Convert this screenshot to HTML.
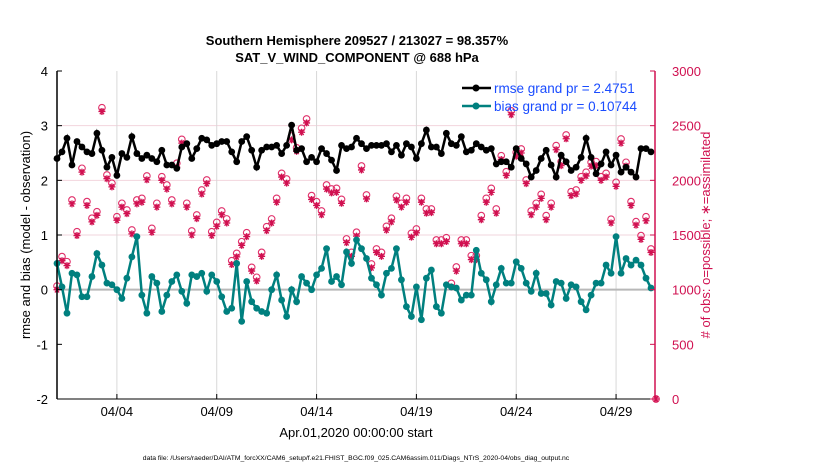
<!DOCTYPE html>
<html><head><meta charset="utf-8"><style>
body{margin:0;background:#fff;width:830px;height:470px;overflow:hidden;font-family:"Liberation Sans",sans-serif}
svg text{font-family:"Liberation Sans",sans-serif}
</style></head><body>
<svg id="chart" width="830" height="470" xmlns="http://www.w3.org/2000/svg">
<text x="357" y="45" text-anchor="middle" font-size="13" font-weight="bold">Southern Hemisphere 209527 / 213027 = 98.357%</text>
<text x="357" y="62" text-anchor="middle" font-size="13" font-weight="bold">SAT_V_WIND_COMPONENT @ 688 hPa</text>
<g id="grid"></g><g id="marks"></g><g id="axes"></g>
<text transform="translate(30,235) rotate(-90)" text-anchor="middle" font-size="13">rmse and bias (model - observation)</text>
<text transform="translate(710,235) rotate(-90)" text-anchor="middle" font-size="13" fill="#d01050"># of obs: o=possible; ∗=assimilated</text>
<text x="356" y="437" text-anchor="middle" font-size="13">Apr.01,2020 00:00:00 start</text>
<text x="356" y="460" text-anchor="middle" font-size="6.8">data file: /Users/raeder/DAI/ATM_forcXX/CAM6_setup/f.e21.FHIST_BGC.f09_025.CAM6assim.011/Diags_NTrS_2020-04/obs_diag_output.nc</text>
<g>
<line x1="462" y1="88" x2="491" y2="88" stroke="#000" stroke-width="2.5"/><circle cx="476" cy="88" r="3.5" fill="#000"/>
<text x="494" y="93" font-size="13.5" fill="#1a4cff">rmse grand pr = 2.4751</text>
<line x1="462" y1="106" x2="491" y2="106" stroke="#00807f" stroke-width="2.5"/><circle cx="476" cy="106" r="3.5" fill="#00807f"/>
<text x="494" y="111" font-size="13.5" fill="#1a4cff">bias grand pr = 0.10744</text>
</g>
</svg>
<script>
const rmse=[2.40,2.52,2.77,2.28,2.71,2.61,2.52,2.49,2.86,2.55,2.24,2.42,2.09,2.49,2.42,2.80,2.49,2.40,2.46,2.40,2.34,2.55,2.28,2.28,2.22,2.61,2.67,2.40,2.58,2.77,2.74,2.64,2.67,2.71,2.71,2.52,2.34,2.71,2.80,2.55,2.24,2.55,2.61,2.61,2.64,2.49,2.64,3.01,2.55,2.58,2.34,2.42,2.34,2.58,2.49,2.37,2.18,2.64,2.58,2.61,2.77,2.67,2.58,2.64,2.64,2.64,2.67,2.52,2.64,2.46,2.67,2.61,2.40,2.67,2.92,2.61,2.61,2.49,2.86,2.67,2.64,2.80,2.52,2.55,2.67,2.61,2.55,2.58,2.30,2.34,2.34,2.24,2.58,2.40,2.30,2.06,2.18,2.40,2.55,2.28,2.06,2.46,2.34,2.18,2.24,2.42,2.77,2.42,2.12,2.30,2.52,2.28,2.46,2.15,2.24,2.15,2.06,2.58,2.58,2.52];
const bias=[0.48,0.05,-0.43,0.30,0.27,-0.13,-0.13,0.24,0.66,0.45,0.12,0.09,0.00,-0.16,0.21,0.60,0.97,-0.10,-0.43,0.24,0.12,-0.40,-0.10,0.15,0.27,-0.03,-0.25,0.27,0.24,0.30,-0.03,0.27,0.15,-0.13,-0.40,-0.34,0.48,-0.58,0.15,-0.22,-0.34,-0.40,-0.43,0.00,0.27,-0.19,-0.49,0.00,-0.22,0.24,0.12,0.00,0.27,0.39,0.75,0.15,0.24,0.09,0.69,0.48,0.91,0.75,0.57,0.21,0.09,-0.10,0.30,0.39,0.75,0.18,-0.31,-0.49,0.05,-0.55,0.21,0.36,-0.31,-0.43,0.09,0.05,0.03,-0.19,-0.10,-0.10,0.72,0.30,0.18,-0.22,0.09,0.39,0.12,0.12,0.51,0.39,0.12,-0.03,0.30,-0.07,-0.07,-0.28,0.15,0.12,-0.16,0.09,0.05,-0.22,-0.37,-0.10,0.12,0.12,0.45,0.30,0.97,0.30,0.57,0.45,0.54,0.45,0.21,0.03];
const possible=[1033,1302,1256,1820,1530,2110,1805,1653,1713,2664,2049,1973,1667,1790,1729,1546,1820,1835,2040,1561,1790,2033,1957,1820,2156,2375,1790,1537,1683,1912,2003,1530,1616,1720,1647,1265,1332,1439,1521,1204,1113,1341,1576,1647,1835,2064,2012,2405,2298,2476,2561,1860,1805,1720,1957,1921,1927,1826,1464,1341,1525,2131,1866,1235,1372,1341,1579,1653,1854,1790,1835,1515,1555,1835,1738,1738,1454,1454,1475,1058,1207,1454,1454,1311,1311,1677,1835,1927,1738,2225,2079,2635,2256,2287,2003,1720,1790,1872,1677,1790,2318,2171,2415,1896,1912,2033,2074,2165,2171,2033,2064,1644,1982,2378,2165,1805,1622,1494,1667,1372,0];
const assimilated=[1000,1265,1220,1785,1495,2075,1770,1620,1680,2630,2015,1940,1635,1755,1695,1510,1785,1800,2005,1525,1755,2000,1920,1785,2120,2340,1755,1500,1650,1875,1970,1495,1580,1685,1610,1230,1300,1405,1485,1170,1080,1305,1540,1610,1800,2030,1975,2370,2265,2440,2525,1825,1770,1685,1920,1885,1890,1790,1430,1305,1490,2095,1830,1200,1340,1305,1545,1620,1820,1755,1800,1480,1520,1800,1700,1705,1420,1420,1440,1025,1170,1420,1420,1275,1275,1640,1800,1890,1700,2190,2045,2600,2220,2250,1970,1685,1755,1835,1640,1755,2280,2135,2380,1860,1875,2000,2040,2130,2135,2000,2030,1610,1945,2340,2130,1770,1590,1460,1630,1340,0];
const tickDays=[3,8,13,18,23,28];
const tickLabels=["04/04","04/09","04/14","04/19","04/24","04/29"];
const yTicks=[-2,-1,0,1,2,3,4];
const y2Ticks=[0,500,1000,1500,2000,2500,3000];

const X0=57,X1=655,Y0=399,Y1=71;
const xDay=d=>X0+(X1-X0)*d/29.95;
const xIdx=i=>xDay(i*0.25);
const yL=v=>Y0-(v+2)/6*(Y0-Y1);
const yR=v=>Y0-v/3000*(Y0-Y1);
const NS="http://www.w3.org/2000/svg";
function mk(p,t,a){const e=document.createElementNS(NS,t);for(const k in a)e.setAttribute(k,a[k]);p.appendChild(e);return e;}
const grid=document.getElementById('grid'),marks=document.getElementById('marks'),axes=document.getElementById('axes');
[1,2,3].forEach(v=>{const l=mk(grid,'line',{x1:X0,x2:X1,y1:yL(v),y2:yL(v),stroke:'#f2d4dd','stroke-width':1});

});
tickDays.forEach((d,k)=>{const l=mk(grid,'line',{x1:xDay(d),x2:xDay(d),y1:Y1,y2:Y0,stroke:'#d8d8d8','stroke-width':1});


const t=mk(axes,'line',{x1:xDay(d),x2:xDay(d),y1:Y0,y2:Y0-5,stroke:'#000'});


const tx=mk(axes,'text',{x:xDay(d),y:Y0+17,'text-anchor':'middle','font-size':13});tx.textContent=tickLabels[k];

});
const z=mk(grid,'line',{x1:X0,x2:X1,y1:yL(0),y2:yL(0),stroke:'#b8b8b8','stroke-width':2});


possible.forEach((v,i)=>{const c=mk(marks,'circle',{cx:xIdx(i),cy:yR(v),r:3.3,fill:'none',stroke:'#e0306a','stroke-width':1.1});

});
assimilated.forEach((v,i)=>{const x=xIdx(i),y=yR(v),s=3.5;
const d=`M${x-s},${y}H${x+s}M${x-s*0.6},${y-s*0.8}L${x+s*0.6},${y+s*0.8}M${x-s*0.6},${y+s*0.8}L${x+s*0.6},${y-s*0.8}M${x},${y-s}V${y+s}`;
const p=mk(marks,'path',{d:d,stroke:'#d01050','stroke-width':1.3,fill:'none'});

});
function series(arr,col,name){const p=mk(marks,'polyline',{points:arr.map((v,i)=>xIdx(i)+','+yL(v)).join(' '),fill:'none',stroke:col,'stroke-width':2.5});


arr.forEach((v,i)=>{const c=mk(marks,'circle',{cx:xIdx(i),cy:yL(v),r:3.4,fill:col});

});}
series(bias,'#00807f','bias');
series(rmse,'#000','rmse');
const la=mk(axes,'line',{x1:X0,x2:X0,y1:Y1,y2:Y0,stroke:'#000','stroke-width':1.5});


const ba=mk(axes,'line',{x1:X0,x2:X1,y1:Y0,y2:Y0,stroke:'#000','stroke-width':1});


const ra=mk(axes,'line',{x1:X1,x2:X1,y1:Y1,y2:Y0,stroke:'#d01050','stroke-width':1.5});


yTicks.forEach(v=>{const t=mk(axes,'line',{x1:X0,x2:X0+5,y1:yL(v),y2:yL(v),stroke:'#000'});


const tx=mk(axes,'text',{x:X0-9,y:yL(v)+5,'text-anchor':'end','font-size':13});tx.textContent=v;

});
y2Ticks.forEach(v=>{const t=mk(axes,'line',{x1:X1-5,x2:X1,y1:yR(v),y2:yR(v),stroke:'#d01050'});


const tx=mk(axes,'text',{x:X1+17,y:yR(v)+5,'font-size':13,fill:'#d01050'});tx.textContent=v;

});
</script>
</body></html>
